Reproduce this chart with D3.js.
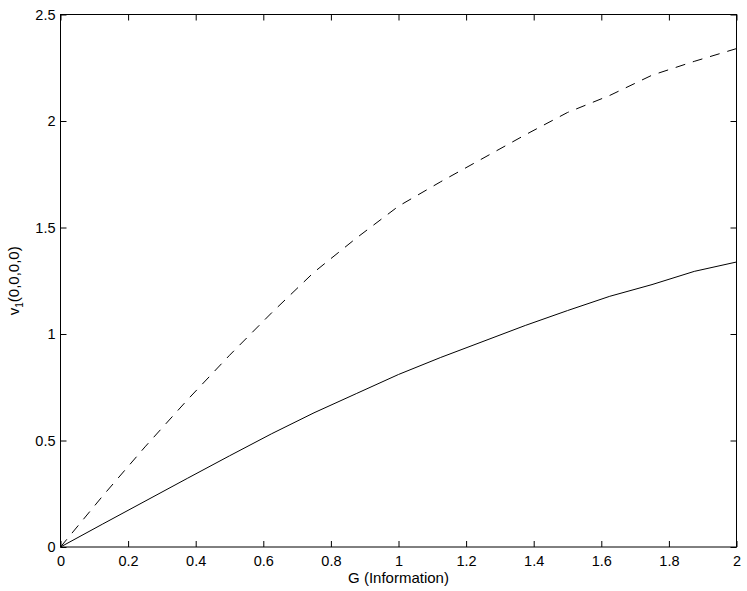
<!DOCTYPE html>
<html><head><meta charset="utf-8">
<script src="https://cdn.jsdelivr.net/npm/d3@7"></script>
<style>body{margin:0;background:#fff}svg{display:block}text{font-family:"Liberation Sans",Arial,Helvetica,sans-serif;fill:#000}</style>
</head><body><svg id="c" width="747" height="591"></svg>
<script>
const gValues = [0,0.125,0.25,0.375,0.5,0.625,0.75,0.875,1,1.125,1.25,1.375,1.5,1.625,1.75,1.875,2];
const solidValues = [0,0.108,0.215,0.322,0.428,0.532,0.63,0.72,0.81,0.89,0.965,1.04,1.11,1.177,1.232,1.294,1.338];
const dashedValues = [0,0.24,0.47,0.69,0.9,1.1,1.29,1.45,1.6,1.715,1.825,1.935,2.04,2.12,2.215,2.28,2.34];
const xTicks = [0,0.2,0.4,0.6,0.8,1,1.2,1.4,1.6,1.8,2];
const yTicks = [0,0.5,1,1.5,2,2.5];
const xLabel = "G (Information)";

const L=60.5, R=736.5, T=14.5, B=547;
const svg=d3.select("#c");
const x=d3.scaleLinear().domain([0,2]).range([L,R]);
const y=d3.scaleLinear().domain([0,2.5]).range([B,T]);
const fmt=d=>String(d);

svg.append("g").attr("transform",`translate(0,${B})`)
  .call(d3.axisBottom(x).tickValues(xTicks).tickFormat(fmt).tickSizeInner(-6).tickSizeOuter(0).tickPadding(9))
  .call(g=>{g.select(".domain").remove();g.selectAll("text").attr("font-size",14.5);});
svg.append("g").attr("transform",`translate(0,${T})`)
  .call(d3.axisTop(x).tickValues(xTicks).tickFormat("").tickSizeInner(-6).tickSizeOuter(0))
  .call(g=>g.select(".domain").remove());
svg.append("g").attr("transform",`translate(${L},0)`)
  .call(d3.axisLeft(y).tickValues(yTicks).tickFormat(fmt).tickSizeInner(-6).tickSizeOuter(0).tickPadding(5))
  .call(g=>{g.select(".domain").remove();g.selectAll("text").attr("font-size",14.5);});
svg.append("g").attr("transform",`translate(${R},0)`)
  .call(d3.axisRight(y).tickValues(yTicks).tickFormat("").tickSizeInner(-6).tickSizeOuter(0))
  .call(g=>g.select(".domain").remove());
svg.selectAll(".tick line").attr("stroke","#000");

svg.append("rect").attr("x",L).attr("y",T).attr("width",R-L).attr("height",B-T)
  .attr("fill","none").attr("stroke","#000").attr("stroke-width",1);

const line=d3.line().x(d=>x(d[0])).y(d=>y(d[1]));
svg.append("path").datum(gValues.map((g,i)=>[g,solidValues[i]]))
  .attr("d",line).attr("fill","none").attr("stroke","#000").attr("stroke-width",1);
svg.append("path").datum(gValues.map((g,i)=>[g,dashedValues[i]]))
  .attr("d",line).attr("fill","none").attr("stroke","#000").attr("stroke-width",1).attr("stroke-dasharray","10,8");

svg.append("text").attr("x",x(1)).attr("y",583).attr("text-anchor","middle").attr("font-size",15).text(xLabel);
const yl=svg.append("text").attr("transform",`translate(18.5,${(T+B)/2}) rotate(-90)`).attr("text-anchor","middle").attr("font-size",15);
yl.append("tspan").text("v");
yl.append("tspan").attr("font-size",10).attr("dy",4).text("1");
yl.append("tspan").attr("dy",-4).text("(0,0,0,0)");
</script></body></html>
